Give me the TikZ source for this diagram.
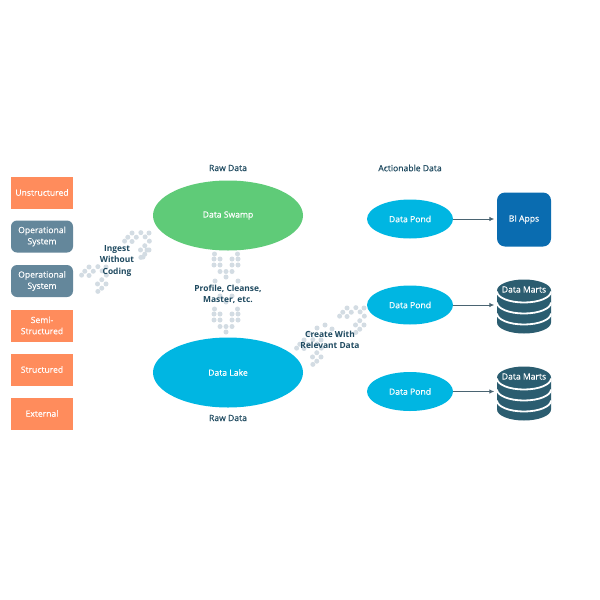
\documentclass[tikz,border=0pt]{standalone}
\usepackage{fontspec}
\setmainfont{Open Sans}
\newfontfamily\semifont[FakeBold=0.35]{Open Sans}
\usetikzlibrary{arrows.meta,shapes.geometric}
\definecolor{srcorange}{HTML}{FF8C5C}
\definecolor{srcslate}{HTML}{64879B}
\definecolor{swampgreen}{HTML}{5FCB78}
\definecolor{pondcyan}{HTML}{00B6E2}
\definecolor{appblue}{HTML}{0A6CB0}
\definecolor{martdark}{HTML}{2B5D70}
\definecolor{labeldark}{HTML}{1F4A60}
\definecolor{dotgrey}{HTML}{D3DCE3}
\definecolor{linegrey}{HTML}{4A6472}
\tikzset{
  boxtext/.style={text=white,font=\semifont\fontsize{8.6}{11.2}\selectfont,align=center,inner sep=0pt},
  recti/.style={boxtext,rectangle,fill=srcorange,minimum width=62pt,minimum height=32pt},
  slate/.style={boxtext,rectangle,rounded corners=6pt,fill=srcslate,minimum width=62pt,minimum height=32pt},
  pond/.style={boxtext,ellipse,fill=pondcyan,minimum width=86pt,minimum height=39pt},
  bigpool/.style={boxtext,ellipse,minimum width=150pt,minimum height=70pt},
  caption/.style={text=labeldark,font=\semifont\fontsize{8.6}{11}\selectfont,align=center,inner sep=0pt},
  flowlabel/.style={text=labeldark,font=\bfseries\fontsize{8.4}{11.2}\selectfont,align=center,inner sep=0pt},
  link/.style={draw=linegrey,line width=0.9pt,-{Latex[length=5pt,width=4.5pt]},shorten >=2.5pt},
}
% one chevron of dots, tip at (#1,#2), turned by #3
\newcommand{\dotvee}[3]{
  \begin{scope}[shift={(#1,#2)},rotate=#3]
    \foreach \dx/\dy in {-11.5/-23,11.5/-23,-12/-18,-6/-18,6/-18,12/-18,-12/-12,-6/-12,6/-12,12/-12,-6/-5.5,0/-5.5,6/-5.5,0/0}
      \fill[dotgrey] (\dx,\dy) circle (2.5pt);
  \end{scope}
}
% stacked disks, node name #1
\newcommand{\martstack}[3]{
  \node (#1) [inner sep=0pt,minimum width=54pt,minimum height=54pt] at (#2,#3) {};
  \begin{scope}[shift={(#2,#3)}]
    \fill[martdark] (-27,-16) -- (-27,16) arc[start angle=180,end angle=360,x radius=27pt,y radius=11pt] -- (27,-16) arc[start angle=0,end angle=180,x radius=27pt,y radius=11pt] -- cycle;
    \foreach \ringy in {-15,-4,7}
      \draw[white,line width=1.8pt] (-27,\ringy) arc[start angle=180,end angle=360,x radius=27pt,y radius=11pt];
    \node (#1text) [boxtext] at (0,-17) {Data Marts};
  \end{scope}
}
\begin{document}
\begin{tikzpicture}[x=1pt,y=-1pt]
\useasboundingbox (0,0) rectangle (600,600);
\fill[white] (0,0) rectangle (600,600);
% dots go under everything else
\dotvee{226}{277}{0}
\dotvee{226}{332}{0}
\foreach \dx/\dy in {215/281,238/281,220/296,232/296,226/302}
  \fill[dotgrey] (\dx,\dy) circle (2.5pt);
\dotvee{149}{233}{135}
\dotvee{106}{267}{135}
\foreach \dx/\dy in {147/250,143/257}
  \fill[dotgrey] (\dx,\dy) circle (2.5pt);
\dotvee{364}{308}{135}
\dotvee{321}{340}{135}
\foreach \dx/\dy in {325/325,317/328,309/333,332/329,338/335}
  \fill[dotgrey] (\dx,\dy) circle (2.5pt);
% sources
\node (unstruct) [recti] at (42,192.5) {Unstructured};
\node (opsys1) [slate] at (42,236.5) {Operational\\System};
\node (opsys2) [slate] at (42,281) {Operational\\System};
\node (semi) [recti] at (42,325.5) {Semi-\\Structured};
\node (struct) [recti] at (42,369.5) {Structured};
\node (extern) [recti] at (42,413.5) {External};
% pools
\node (swamp) [bigpool,fill=swampgreen] at (228,215.5) {Data Swamp};
\node (lake) [bigpool,fill=pondcyan] at (228,372.5) {Data Lake};
\node (pond1) [pond] at (410,219) {Data Pond};
\node (pond2) [pond] at (410,305) {Data Pond};
\node (pond3) [pond] at (410,391.5) {Data Pond};
\node (biapps) [boxtext,rectangle,rounded corners=8pt,fill=appblue,minimum width=54pt,minimum height=54pt] at (524,219.5) {BI Apps};
\martstack{marts1}{524}{306.5}
\martstack{marts2}{524}{393.5}
\draw[link] (pond1.east) -- (pond1.east -| biapps.west);
\draw[link] (pond2.east) -- (pond2.east -| marts1.west);
\draw[link] (pond3.east) -- (pond3.east -| marts2.west);
% texts
\node (rawtop) [caption] at (228,168) {Raw Data};
\node (rawlow) [caption] at (228,418) {Raw Data};
\node (action) [caption] at (410,168) {Actionable Data};
\node (ingest) [flowlabel] at (117,261) {Ingest\\Without\\Coding};
\node (profile) [flowlabel] at (228,294.5) {Profile, Cleanse,\\Master, etc.};
\node (create) [flowlabel] at (330,340) {Create With\\Relevant Data};
\end{tikzpicture}
\end{document}
